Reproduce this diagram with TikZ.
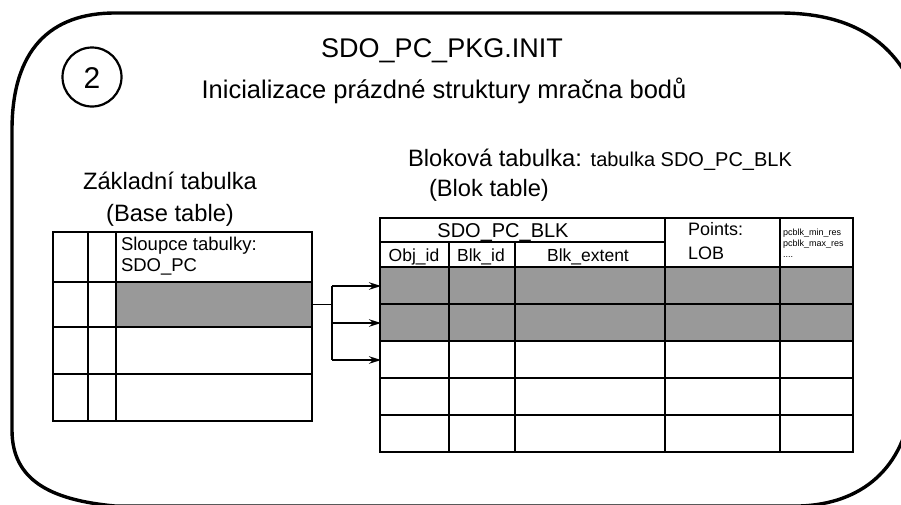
\documentclass[tikz,border=0pt]{standalone}
\usepackage{fontspec}
\setmainfont{Liberation Sans}
\usetikzlibrary{arrows.meta}
\definecolor{cellgray}{HTML}{999999}
\tikzset{
  frame/.style={line width=3.4pt,line join=round},
  grid/.style={line width=2.1pt},
  txt/.style={anchor=base west,inner sep=0pt,outer sep=0pt},
  ctxt/.style={anchor=base,inner sep=0pt,outer sep=0pt},
  link/.style={line width=1.5pt,-{Stealth[length=12pt,width=7.5pt]}},
  fs/.style={font=\fontsize{#1}{#1}\selectfont}
}
\begin{document}
\begin{tikzpicture}[x=1pt,y=-1pt]
\useasboundingbox (0,0) rectangle (901,504);
\clip (0,0) rectangle (901,504);
% outer frame
\draw[frame] (12,130) .. controls (12,50) and (50,13) .. (115,13)
  -- (780,13) .. controls (850,13) and (890,40) .. (912,85)
  -- (912,400) .. controls (905,470) and (860,504) .. (800,506)
  -- (115,506) .. controls (50,500) and (12,480) .. (12,430) -- cycle;
% circle 2
\node[draw,circle,line width=2.2pt,minimum size=59pt,inner sep=0pt] (num) at (92,77) {};
\node[ctxt,fs=30] (numtxt) at (92,88) {2};
% titles
\node[ctxt,fs=27] (title) at (442,57.5) {SDO\_PC\_PKG.INIT};
\node[ctxt,fs=25.5] (subtitle) at (444,98) {Inicializace prázdné struktury mračna bodů};
\node[ctxt,fs=23.7] (basetitle) at (170,189.5) {Základní tabulka};
\node[ctxt,fs=23.7] (basesub) at (170,221) {(Base table)};
\node[txt,fs=23.7] (blktitle) at (408,166) {Bloková tabulka: {\fontsize{20}{20}\selectfont tabulka SDO\_PC\_BLK}};
\node[txt,fs=23.7] (blksub) at (429,196) {(Blok table)};
% base table
\fill[cellgray] (116,282) rectangle (312,327);
\draw[grid] (53,232) rectangle (312,421);
\draw[grid] (88,232) -- (88,421);
\draw[grid] (116,232) -- (116,421);
\draw[grid] (53,282) -- (312,282);
\draw[grid] (53,327) -- (312,327);
\draw[grid] (53,374) -- (312,374);
\node[txt,fs=18.5] (bh1) at (121,250.5) {Sloupce tabulky:};
\node[txt,fs=18.5] (bh2) at (121,271.5) {SDO\_PC};
% block table
\fill[cellgray] (380,267) rectangle (853,341);
\draw[grid] (380,218) rectangle (853,452);
\draw[grid] (380,242) -- (665,242);
\draw[grid] (380,267) -- (853,267);
\draw[grid] (380,304) -- (853,304);
\draw[grid] (380,341) -- (853,341);
\draw[grid] (380,378) -- (853,378);
\draw[grid] (380,415) -- (853,415);
\draw[grid] (449,242) -- (449,452);
\draw[grid] (515,242) -- (515,452);
\draw[grid] (665,218) -- (665,452);
\draw[grid] (780,218) -- (780,452);
\node[ctxt,fs=20] (hsdo) at (503,237) {SDO\_PC\_BLK};
\node[ctxt,fs=17.5] (hobj) at (414,261) {Obj\_id};
\node[ctxt,fs=17.5] (hblk) at (481,261) {Blk\_id};
\node[ctxt,fs=17.5] (hext) at (588,261) {Blk\_extent};
\node[txt,fs=18] (hpts) at (688,235.5) {Points:};
\node[txt,fs=18] (hlob) at (688,259.5) {LOB};
\node[txt,fs=9] (hmin) at (783,235) {pcblk\_min\_res};
\node[txt,fs=9] (hmax) at (783,246) {pcblk\_max\_res};
\node[txt,fs=9] (hdots) at (783,257) {....};
% connectors
\coordinate (src) at (312,304.5);
\coordinate (fork) at (332,304.5);
\coordinate (r1) at (381,286);
\coordinate (r2) at (381,323);
\coordinate (r3) at (381,360);
\draw[line width=1.5pt] (src) -- (fork);
\draw[line width=1.5pt] (fork|-r1) -- (fork|-r3);
\draw[link] (fork|-r1) -- (r1);
\draw[link] (fork|-r2) -- (r2);
\draw[link] (fork|-r3) -- (r3);
\end{tikzpicture}
\end{document}
